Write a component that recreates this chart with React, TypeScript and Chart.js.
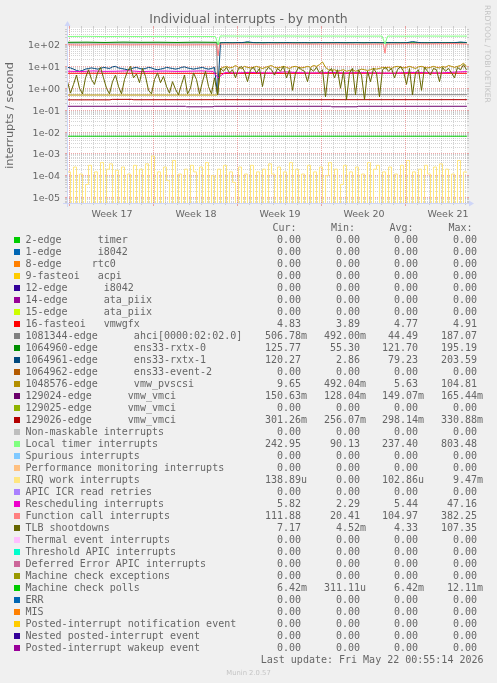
import React, { useEffect, useRef } from "react";
import { Chart, registerables } from "chart.js";

Chart.register(...registerables);

const WIDTH = 497;
const HEIGHT = 683;

const TITLE = "Individual interrupts - by month";
const Y_TITLE = "interrupts / second";
const WATERMARK = "RRDTOOL / TOBI OETIKER";
const FOOTER = "Munin 2.0.57";
const LAST_UPDATE = "Last update: Fri May 22 00:55:14 2026";
const STAT_HEADERS = ["Cur:", "Min:", "Avg:", "Max:"];

// x axis in days counted from Monday of ISO week 17
const X_MIN = -1 / 6;
const X_MAX = X_MIN + 100 / 3;
const WEEK_LABELS = ["Week 17", "Week 18", "Week 19", "Week 20", "Week 21"];
const WEEK_STARTS = [0, 7, 14, 21, 28];

const Y_MIN = 5.68e-6;
const Y_MAX = 568;
const DECADES = [-5, -4, -3, -2, -1, 0, 1, 2];

const SERIES_LABELS = [
  "2-edge      timer",
  "1-edge      i8042",
  "8-edge     rtc0",
  "9-fasteoi   acpi",
  "12-edge      i8042",
  "14-edge      ata_piix",
  "15-edge      ata_piix",
  "16-fasteoi   vmwgfx",
  "1081344-edge      ahci[0000:02:02.0]",
  "1064960-edge      ens33-rxtx-0",
  "1064961-edge      ens33-rxtx-1",
  "1064962-edge      ens33-event-2",
  "1048576-edge      vmw_pvscsi",
  "129024-edge      vmw_vmci",
  "129025-edge      vmw_vmci",
  "129026-edge      vmw_vmci",
  "Non-maskable interrupts",
  "Local timer interrupts",
  "Spurious interrupts",
  "Performance monitoring interrupts",
  "IRQ work interrupts",
  "APIC ICR read retries",
  "Rescheduling interrupts",
  "Function call interrupts",
  "TLB shootdowns",
  "Thermal event interrupts",
  "Threshold APIC interrupts",
  "Deferred Error APIC interrupts",
  "Machine check exceptions",
  "Machine check polls",
  "ERR",
  "MIS",
  "Posted-interrupt notification event",
  "Nested posted-interrupt event",
  "Posted-interrupt wakeup event",
];

const SERIES_COLORS = [
  "#00CC00", "#0066B3", "#FF8000", "#FFCC00", "#330099", "#990099", "#CCFF00",
  "#FF0000", "#808080", "#008F00", "#00487D", "#B35A00", "#B38F00", "#6B006B",
  "#8FB300", "#B30000", "#BEBEBE", "#80FF80", "#80C9FF", "#FFC080", "#FFE680",
  "#AA80FF", "#EE00CC", "#FF8080", "#666600", "#FFBFFF", "#00FFCC", "#CC6699",
  "#999900", "#00CC00", "#0066B3", "#FF8000", "#FFCC00", "#330099", "#990099",
];

const STAT_CUR = [0, 0, 0, 0, 0, 0, 0, 4.83, 0.50678, 125.77, 120.27, 0, 9.65, 0.15063, 0, 0.30126, 0, 242.95, 0, 0, 0.00013889, 0, 5.82, 111.88, 7.17, 0, 0, 0, 0, 0.00642, 0, 0, 0, 0, 0];
const STAT_MIN = [0, 0, 0, 0, 0, 0, 0, 3.89, 0.492, 55.3, 2.86, 0, 0.49204, 0.12804, 0, 0.25607, 0, 90.13, 0, 0, 0, 0, 2.29, 20.41, 0.00452, 0, 0, 0, 0, 0.00031111, 0, 0, 0, 0, 0];
const STAT_AVG = [0, 0, 0, 0, 0, 0, 0, 4.77, 44.49, 121.7, 79.23, 0, 5.63, 0.14907, 0, 0.29814, 0, 237.4, 0, 0, 0.00010286, 0, 5.44, 104.97, 4.33, 0, 0, 0, 0, 0.00642, 0, 0, 0, 0, 0];
const STAT_MAX = [0, 0, 0, 0, 0, 0, 0, 4.91, 187.07, 195.19, 203.59, 0, 104.81, 0.16544, 0, 0.33088, 0, 803.48, 0, 0, 0.00947, 0, 47.16, 382.25, 107.35, 0, 0, 0, 0, 0.01211, 0, 0, 0, 0, 0];

// regular samples (every 6 hours) for the noisy series
const SAMPLE_START = -1 / 6 + 1 / 24;
const SAMPLE_STEP = 0.25;
const SAMPLE_COUNT = 134;

const rxtx1Values = [
  9, 8.5, 7.5, 6.5, 6, 6.5, 7.5, 8, 8.5, 8,
  7.5, 8, 9, 8.5, 8, 9.5, 10, 8.5, 8, 7.5,
  7, 7.5, 8.5, 9, 8, 7.5, 8, 9, 8.5, 7.5,
  7, 7.5, 8, 9, 8.5, 8, 7.5, 8, 9, 9.5,
  8.5, 8, 7.5, 8, 8.5, 9, 8, 7.5, 8, 9,
  0.5,
  118, 121, 122, 120, 119, 121, 123, 122, 126, 134,
  127, 122, 120, 121, 119, 120, 122, 121, 120, 119,
  121, 120, 122, 121, 120, 119, 120, 121, 122, 120,
  119, 121, 120, 122, 121, 120, 119, 121, 120, 122,
  121, 120, 119, 121, 120, 122, 121, 120, 119, 121,
  120, 122, 121, 120, 119, 121, 120, 122, 121, 120,
  119, 121, 120, 128, 136, 130, 124, 121, 120, 119,
  121, 120, 122, 121, 120, 119, 121, 120, 122, 125,
  130, 126, 124,
];

const tlbValues = [
  2, 0.6, 1.5, 4, 1, 0.55, 3, 7, 2.5, 1.5,
  5, 9, 3, 1, 0.55, 2, 4, 1.2, 0.55, 2.5,
  6, 10, 3, 4.5, 1.8, 8, 3.5, 0.8, 0.55, 2.5,
  5, 1.8, 3.5, 1.2, 0.6, 2, 0.9, 0.5, 1.5, 4,
  0.55, 1, 5, 2.5, 0.55, 2, 6, 1.2, 0.55, 3,
  0.5,
  8, 6, 9, 5, 7, 3, 8, 10, 6, 2,
  7, 9, 5, 8, 1.2, 6, 9, 7, 4, 8,
  6, 10, 3, 7, 0.8, 5, 9, 7, 6, 2,
  8, 6, 9, 5, 7, 0.4, 6, 8, 3, 7,
  1, 6, 0.3, 5, 8, 0.5, 7, 4, 0.3, 6,
  2, 8, 5, 0.4, 7, 9, 6, 8, 3, 7,
  10, 6, 1.5, 8, 0.5, 5, 7, 0.8, 9, 6,
  4, 8, 7, 2, 9, 6, 8, 5, 3, 9,
  7, 12, 7,
];

const irqWorkValues = [
  1.5e-4, 0, 2.5e-4, 0, 1.2e-4, 0, 4e-5, 3e-4, 0, 1.5e-4,
  0, 4e-4, 0, 2e-4, 3.5e-4, 0, 1.8e-4, 0, 2.5e-4, 0,
  1.2e-4, 0, 3e-4, 0, 2e-4, 0, 3.5e-4, 0, 8e-4, 0,
  1.5e-4, 0, 2.5e-4, 6e-5, 0, 5e-4, 0, 1.2e-4, 0, 2e-4,
  0, 3e-4, 1.5e-4, 0, 2.5e-4, 0, 4e-4, 0, 1e-4, 0,
  2e-4, 0, 3e-4, 0, 1.5e-4, 5e-5, 0, 2.5e-4, 0, 1.2e-4,
  0, 3e-4, 0, 1.5e-4, 0, 2e-4, 0, 3.5e-4, 1.2e-4, 0,
  2.5e-4, 0, 1.5e-4, 0, 4e-4, 0, 2e-4, 0, 1.2e-4, 0,
  3e-4, 0, 1.5e-4, 0, 2.5e-4, 0, 1e-4, 4e-4, 0, 2e-4,
  0, 4e-5, 3e-4, 0, 1.5e-4, 0, 2.5e-4, 0, 1.2e-4, 0,
  4e-4, 0, 2e-4, 3e-4, 0, 1.5e-4, 0, 2.5e-4, 0, 1.2e-4,
  0, 3e-4, 0, 5e-4, 0, 1.5e-4, 0, 2e-4, 0, 3e-4,
  1.2e-4, 0, 2.5e-4, 0, 3.5e-4, 0, 2e-4, 0, 1.2e-4, 0,
  5e-4, 0, 1.5e-4, 1.4e-4,
];

// vmw_pvscsi: flat before the reboot sample (index 50), then regular samples
const pvscsiBefore = 0.49;
const pvscsiAfter = [
  0.49,
  8, 9, 10, 8.5, 9, 11, 9, 8, 10, 9,
  8.5, 9, 10, 9, 8, 9, 10, 11, 9, 8.5,
  9, 10, 9, 8, 9.5, 10, 9, 8.5, 9, 10,
  9, 11, 10, 12, 16, 9, 7, 6.5, 7, 6,
  6.5, 7, 6, 6.5, 7, 6, 6.5, 7.5, 7, 6.5,
  7, 8, 7.5, 8, 9, 8.5, 9, 8, 9.5, 10,
  9, 8.5, 9, 10, 9, 8, 9.5, 10, 9, 8.5,
  9, 10, 9, 8.5, 10, 9, 11, 10, 9, 10,
  11, 14, 10,
];

// sparse series (time in days, value)
const localTimerTimes = [-0.16, 1.5, 3, 4.5, 6, 7.5, 9, 10.5, 12.2, 12.42, 12.6, 14, 16, 18, 20, 22, 24, 26.1, 26.33, 26.55, 28, 30, 32, 33.16];
const localTimerValues = [232, 236, 230, 234, 231, 235, 230, 233, 232, 100, 245, 242, 240, 244, 241, 243, 240, 242, 105, 242, 240, 243, 241, 242];

const funcCallTimes = [-0.16, 1, 3, 5, 7, 9, 11, 12.3, 12.42, 12.55, 14, 16, 18, 20, 22, 24, 26.2, 26.33, 26.45, 28, 30, 32, 33.16];
const funcCallValues = [97, 94, 99, 96, 98, 95, 97, 96, 30, 104, 107, 103, 108, 105, 107, 104, 106, 40, 104, 109, 107, 111, 106];

const rxtx0Times = [-0.16, 1.5, 3, 4.5, 6, 7.5, 9, 10.5, 12.3, 12.42, 12.55, 16, 20, 24, 28, 33.16];
const rxtx0Values = [126, 128, 124, 129, 126, 127, 124, 128, 126, 100, 120, 121, 120, 121, 120, 121];

const vmwgfxTimes = [-0.16, 12.3, 12.42, 12.55, 20, 33.16];
const vmwgfxValues = [4.85, 4.8, 4.2, 4.75, 4.8, 4.83];

const ahciTimes = [-0.16, 12.3, 12.42, 33.16];
const ahciValues = [117, 117, 0.507, 0.507];

const vmci26Times = [-0.16, 3.4, 3.6, 5.2, 5.4, 12.42, 33.16];
const vmci26Values = [0.295, 0.295, 0.31, 0.31, 0.298, 0.3, 0.301];

const vmci24Times = [-0.16, 9.7, 9.8, 12.0, 12.1, 21.8, 21.9, 24.0, 24.1, 33.16];
const vmci24Values = [0.15, 0.15, 0.142, 0.142, 0.15, 0.15, 0.142, 0.142, 0.15, 0.15];

const mcePollTimes = [-0.16, 33.16];
const mcePollValues = [0.00642, 0.00642];

const reschedTimes = [-0.16, 1, 2, 3, 4, 5, 6, 7, 8, 9, 10, 11, 12, 12.42, 13, 14, 15, 16, 17, 18, 19, 20, 21, 22, 23, 24, 25, 26, 27, 28, 29, 30, 31, 32, 33.16];
const reschedValues = [6, 5.8, 6.2, 5.9, 6, 6.3, 5.8, 6, 6.1, 5.9, 6, 6.2, 5.9, 3, 5.2, 5, 5.3, 5.1, 5, 5.6, 5.2, 5, 5.1, 5.3, 5, 5.2, 5.1, 5, 4.9, 5.2, 5.3, 5.1, 5, 5.4, 5.8];

const sampleTimes = Array.from({ length: SAMPLE_COUNT }, (_, i) => SAMPLE_START + i * SAMPLE_STEP);

const SERIES_POINTS: Record<number, [number[], number[]]> = {
  7: [vmwgfxTimes, vmwgfxValues],
  8: [ahciTimes, ahciValues],
  9: [rxtx0Times, rxtx0Values],
  10: [sampleTimes, rxtx1Values],
  12: [[-0.16, ...sampleTimes.slice(50)], [pvscsiBefore, ...pvscsiAfter]],
  13: [vmci24Times, vmci24Values],
  15: [vmci26Times, vmci26Values],
  17: [localTimerTimes, localTimerValues],
  20: [sampleTimes, irqWorkValues],
  22: [reschedTimes, reschedValues],
  23: [funcCallTimes, funcCallValues],
  24: [sampleTimes, tlbValues],
  29: [mcePollTimes, mcePollValues],
};

const FONT_SANS = "'DejaVu Sans', sans-serif";
const FONT_MONO = "'DejaVu Sans Mono', monospace";
const TEXT_COLOR = "#666666";
const FAINT_TEXT = "rgba(102,102,102,0.32)";
const MINOR_GRID = "rgba(143,143,143,0.38)";
const MAJOR_GRID = "rgba(222,79,79,0.5)";
const AXIS_COLOR = "#CFD6F8";

function formatStat(v: number): [string, string] {
  if (v === 0) return ["0.00", ""];
  if (v < 1e-3) return [(v * 1e6).toFixed(2), "u"];
  if (v < 1) return [(v * 1e3).toFixed(2), "m"];
  return [v.toFixed(2), ""];
}

function decadeLabel(d: number) {
  return "1e" + (d < 0 ? "-" : "+") + String(Math.abs(d)).padStart(2, "0");
}

const muninPlugin = {
  id: "muninLook",
  beforeDraw(chart: any) {
    const ctx: CanvasRenderingContext2D = chart.ctx;
    const a = chart.chartArea;
    const xs = chart.scales.x;
    const ys = chart.scales.y;
    ctx.save();
    ctx.fillStyle = "#F0F0F0";
    ctx.fillRect(0, 0, WIDTH, HEIGHT);
    ctx.fillStyle = "#FFFFFF";
    ctx.fillRect(a.left, a.top, a.right - a.left, a.bottom - a.top);
    ctx.lineWidth = 1;

    const hLine = (value: number, color: string) => {
      const py = Math.round(ys.getPixelForValue(value) - 0.5) + 0.5;
      ctx.strokeStyle = color;
      ctx.setLineDash([]);
      ctx.beginPath();
      ctx.moveTo(a.left - 2, py);
      ctx.lineTo(a.left, py);
      ctx.moveTo(a.right, py);
      ctx.lineTo(a.right + 2, py);
      ctx.stroke();
      ctx.setLineDash([1, 1]);
      ctx.beginPath();
      ctx.moveTo(a.left, py);
      ctx.lineTo(a.right, py);
      ctx.stroke();
    };
    for (let d = -6; d <= 2; d++) {
      for (let k = 2; k <= 9; k++) {
        const v = k * Math.pow(10, d);
        if (v > Y_MIN && v < Y_MAX) hLine(v, MINOR_GRID);
      }
    }
    DECADES.forEach((d) => hLine(Math.pow(10, d), MAJOR_GRID));

    const vLine = (day: number, color: string, tick: number) => {
      const px = Math.round(xs.getPixelForValue(day)) + 0.5;
      if (px < a.left || px > a.right) return;
      ctx.strokeStyle = color;
      ctx.setLineDash([]);
      ctx.beginPath();
      ctx.moveTo(px, a.bottom);
      ctx.lineTo(px, a.bottom + tick);
      ctx.moveTo(px, a.top - 2);
      ctx.lineTo(px, a.top);
      ctx.stroke();
      ctx.setLineDash([1, 1]);
      ctx.beginPath();
      ctx.moveTo(px, a.bottom);
      ctx.lineTo(px, a.top);
      ctx.stroke();
    };
    for (let day = 0; day <= X_MAX; day++) {
      if (WEEK_STARTS.indexOf(day) < 0) vLine(day, MINOR_GRID, 2);
    }
    WEEK_STARTS.forEach((day) => vLine(day, MAJOR_GRID, 3));
    ctx.restore();
  },
  afterDatasetsDraw(chart: any) {
    const ctx: CanvasRenderingContext2D = chart.ctx;
    const a = chart.chartArea;
    const xs = chart.scales.x;
    const ys = chart.scales.y;
    ctx.save();
    ctx.setLineDash([]);
    ctx.lineWidth = 1;

    // axes and arrows
    ctx.strokeStyle = AXIS_COLOR;
    ctx.beginPath();
    ctx.moveTo(a.left - 4, a.bottom + 0.5);
    ctx.lineTo(a.right + 4, a.bottom + 0.5);
    ctx.moveTo(a.left + 0.5, a.bottom + 4);
    ctx.lineTo(a.left + 0.5, a.top - 4);
    ctx.stroke();
    ctx.fillStyle = AXIS_COLOR;
    ctx.beginPath();
    ctx.moveTo(a.right + 2, a.bottom - 2.5);
    ctx.lineTo(a.right + 2, a.bottom + 3.5);
    ctx.lineTo(a.right + 7, a.bottom + 0.5);
    ctx.closePath();
    ctx.fill();
    ctx.beginPath();
    ctx.moveTo(a.left - 2.5, a.top - 2);
    ctx.lineTo(a.left + 3.5, a.top - 2);
    ctx.lineTo(a.left + 0.5, a.top - 7);
    ctx.closePath();
    ctx.fill();

    ctx.fillStyle = TEXT_COLOR;
    // y tick labels
    ctx.font = `9.5px ${FONT_SANS}`;
    ctx.textAlign = "right";
    ctx.textBaseline = "alphabetic";
    DECADES.forEach((d) => {
      const py = Math.round(ys.getPixelForValue(Math.pow(10, d)) - 0.5) + 0.5;
      ctx.fillText(decadeLabel(d), a.left - 7, py + 3.5);
    });
    // x tick labels
    ctx.textAlign = "center";
    WEEK_LABELS.forEach((lab, i) => {
      const px = xs.getPixelForValue(WEEK_STARTS[i] + 3.5) + 1;
      ctx.fillText(lab, px, a.bottom + 13.5);
    });

    // title
    ctx.font = `12.5px ${FONT_SANS}`;
    ctx.fillText(TITLE, WIDTH / 2, 23);

    // vertical y title
    ctx.save();
    ctx.font = `11.3px ${FONT_SANS}`;
    ctx.translate(13, (a.top + a.bottom) / 2);
    ctx.rotate(-Math.PI / 2);
    ctx.textAlign = "center";
    ctx.fillText(Y_TITLE, 0, 0);
    ctx.restore();

    // watermark on the right
    ctx.save();
    ctx.fillStyle = FAINT_TEXT;
    ctx.font = `7.6px ${FONT_SANS}`;
    ctx.translate(485, 5);
    ctx.rotate(Math.PI / 2);
    ctx.textAlign = "left";
    ctx.fillText(WATERMARK, 0, 0);
    ctx.restore();

    // legend table
    ctx.font = `10px ${FONT_MONO}`;
    const statRight = [301, 360, 418, 477];
    const headerRight = [296.5, 355, 413.5, 472.5];
    ctx.textAlign = "right";
    STAT_HEADERS.forEach((h, c) => ctx.fillText(h, headerRight[c], 231));
    const statCols = [STAT_CUR, STAT_MIN, STAT_AVG, STAT_MAX];
    SERIES_LABELS.forEach((label, i) => {
      const base = 243 + 12 * i;
      ctx.fillStyle = SERIES_COLORS[i];
      ctx.fillRect(14, base - 6, 6, 6);
      ctx.fillStyle = TEXT_COLOR;
      ctx.textAlign = "left";
      ctx.fillText(label, 25.5, base);
      statCols.forEach((col, c) => {
        const [num, suf] = formatStat(col[i]);
        ctx.textAlign = "right";
        ctx.fillText(num, statRight[c], base);
        if (suf) {
          ctx.textAlign = "left";
          ctx.fillText(suf, statRight[c], base);
        }
      });
    });
    ctx.textAlign = "right";
    ctx.fillText(LAST_UPDATE, 483.5, 663);

    ctx.fillStyle = FAINT_TEXT;
    ctx.font = `6.8px ${FONT_SANS}`;
    ctx.textAlign = "center";
    ctx.fillText(FOOTER, 248.5, 675);
    ctx.restore();
  },
};

function buildDatasets() {
  return SERIES_LABELS.map((label, i) => {
    const pts = SERIES_POINTS[i];
    const data = pts
      ? pts[0].map((t, k) => ({ x: t, y: pts[1][k] === 0 ? Y_MIN / 1000 : pts[1][k] }))
      : [];
    return {
      label,
      data,
      borderColor: SERIES_COLORS[i],
      backgroundColor: SERIES_COLORS[i],
      borderWidth: 1,
      pointRadius: 0,
      tension: 0,
      fill: false,
      stepped: i === 20,
      order: 100 - i,
      clip: 0,
    };
  });
}

export default function App() {
  const ref = useRef<HTMLCanvasElement>(null);
  useEffect(() => {
    if (!ref.current) return;
    const chart = new Chart(ref.current, {
      type: "line",
      data: { datasets: buildDatasets() as any },
      options: {
        responsive: false,
        animation: false,
        events: [],
        layout: { padding: { left: 67, top: 28, right: 30, bottom: 480 } },
        plugins: {
          legend: { display: false },
          title: { display: false },
          tooltip: { enabled: false },
        },
        scales: {
          x: { type: "linear", min: X_MIN, max: X_MAX, display: false },
          y: { type: "logarithmic", min: Y_MIN, max: Y_MAX, display: false },
        },
      },
      plugins: [muninPlugin],
    } as any);
    return () => chart.destroy();
  }, []);
  return (
    <div
      style={{
        position: "absolute",
        left: 0,
        top: 0,
        width: WIDTH,
        height: HEIGHT,
        background: "#F0F0F0",
      }}
    >
      <canvas ref={ref} width={WIDTH} height={HEIGHT} style={{ display: "block", width: WIDTH, height: HEIGHT }} />
    </div>
  );
}
